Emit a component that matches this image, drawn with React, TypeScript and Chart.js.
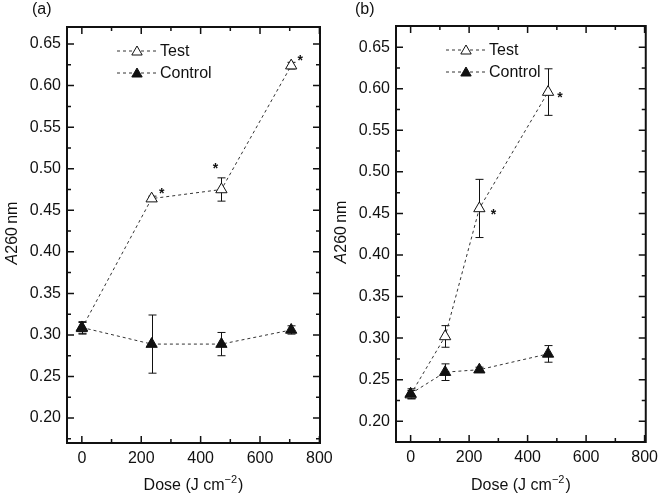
import React, { useEffect, useRef } from "react";
import { Chart, registerables } from "chart.js";

Chart.register(...registerables);

// ---------- data ----------
const seriesNames = ["Test", "Control"];
const panelLabels = ["(a)", "(b)"];
const xTitleMain = "Dose (J cm";
const xTitleSup = "\u22122";
const yTitleItalic = "A";
const yTitleRest = "260\u2009nm";

const xTickValues = [0, 200, 400, 600, 800];
const yTickValues = [0.2, 0.25, 0.3, 0.35, 0.4, 0.45, 0.5, 0.55, 0.6, 0.65];

// panel (a)
const doseA = [0, 235, 470, 705];
const testA = [0.308, 0.464, 0.475, 0.624];
const testErrA = [0.007, 0.003, 0.014, 0.004];
const controlA = [0.309, 0.289, 0.289, 0.306];
const controlErrA = [0.007, 0.035, 0.014, 0.005];
const starsA = [false, true, true, true];

// panel (b)
const doseB = [0, 118, 235, 470];
const testB = [0.232, 0.302, 0.456, 0.596];
const testErrB = [0.005, 0.013, 0.035, 0.028];
const controlB = [0.233, 0.259, 0.262, 0.281];
const controlErrB = [0.006, 0.01, 0.003, 0.01];
const starsB = [false, false, true, true];

// ---------- style ----------
const FONT_FAMILY = '"Liberation Sans", Arial, Helvetica, sans-serif';
const INK = "#111111";
const LINE = "#333333";

type PanelCfg = {
  label: string;
  dose: number[];
  test: number[];
  testErr: number[];
  control: number[];
  controlErr: number[];
  stars: boolean[];
  starOffsets: ({ dx: number; dy: number } | null)[];
  xMin: number;
  xMax: number;
  yMin: number;
  yMax: number;
  canvasW: number;
  left: number;
  padTop: number;
  padRight: number;
  yWidth: number;
  xHeight: number;
  labelX: number;
};

const panels: PanelCfg[] = [
  {
    label: panelLabels[0],
    dose: doseA,
    test: testA,
    testErr: testErrA,
    control: controlA,
    controlErr: controlErrA,
    stars: starsA,
    starOffsets: [null, { dx: 10, dy: -9 }, { dx: -6, dy: -24 }, { dx: 9, dy: -9 }],
    xMin: -50,
    xMax: 802,
    yMin: 0.17,
    yMax: 0.6705,
    canvasW: 345,
    left: 0,
    padTop: 27,
    padRight: 25,
    yWidth: 67,
    xHeight: 51,
    labelX: 32,
  },
  {
    label: panelLabels[1],
    dose: doseB,
    test: testB,
    testErr: testErrB,
    control: controlB,
    controlErr: controlErrB,
    stars: starsB,
    starOffsets: [null, null, { dx: 14, dy: 3 }, { dx: 12, dy: 2 }],
    xMin: -50,
    xMax: 804,
    yMin: 0.175,
    yMax: 0.6755,
    canvasW: 332,
    left: 332,
    padTop: 26,
    padRight: 14,
    yWidth: 64,
    xHeight: 52,
    labelX: 23,
  },
];

function drawTriangle(ctx: CanvasRenderingContext2D, x: number, y: number, r: number, filled: boolean) {
  ctx.beginPath();
  let rad = 0;
  ctx.moveTo(x + Math.sin(rad) * r, y - Math.cos(rad) * r);
  rad += (2 * Math.PI) / 3;
  ctx.lineTo(x + Math.sin(rad) * r, y - Math.cos(rad) * r);
  rad += (2 * Math.PI) / 3;
  ctx.lineTo(x + Math.sin(rad) * r, y - Math.cos(rad) * r);
  ctx.closePath();
  ctx.fillStyle = filled ? INK : "#ffffff";
  ctx.fill();
  ctx.lineWidth = 1;
  ctx.strokeStyle = INK;
  ctx.stroke();
}

function makePlugin(cfg: PanelCfg) {
  return {
    id: "panelDecor",
    beforeDatasetsDraw(chart: any) {
      const ctx: CanvasRenderingContext2D = chart.ctx;
      const xs = chart.scales.x;
      const ys = chart.scales.y;
      const groups = [
        { v: cfg.test, e: cfg.testErr },
        { v: cfg.control, e: cfg.controlErr },
      ];
      ctx.save();
      ctx.strokeStyle = INK;
      ctx.lineWidth = 1;
      groups.forEach((g) => {
        cfg.dose.forEach((d, i) => {
          const x = Math.round(xs.getPixelForValue(d)) + 0.5;
          const yHi = ys.getPixelForValue(g.v[i] + g.e[i]);
          const yLo = ys.getPixelForValue(g.v[i] - g.e[i]);
          ctx.beginPath();
          ctx.moveTo(x, yHi);
          ctx.lineTo(x, yLo);
          ctx.moveTo(x - 4, yHi);
          ctx.lineTo(x + 4, yHi);
          ctx.moveTo(x - 4, yLo);
          ctx.lineTo(x + 4, yLo);
          ctx.stroke();
        });
      });
      ctx.restore();
    },
    afterDraw(chart: any) {
      const ctx: CanvasRenderingContext2D = chart.ctx;
      const a = chart.chartArea;
      const xs = chart.scales.x;
      const ys = chart.scales.y;
      ctx.save();

      // frame
      ctx.strokeStyle = INK;
      ctx.lineWidth = 2;
      ctx.strokeRect(a.left, a.top, a.right - a.left, a.bottom - a.top);

      // inward ticks
      ctx.lineWidth = 1.5;
      ctx.beginPath();
      for (let v = 0; v <= cfg.xMax + 1e-9; v += 100) {
        const major = v % 200 === 0;
        const len = major ? 7 : 4;
        const x = xs.getPixelForValue(v);
        ctx.moveTo(x, a.bottom);
        ctx.lineTo(x, a.bottom - len);
        ctx.moveTo(x, a.top);
        ctx.lineTo(x, a.top + len);
      }
      for (let k = 7; k <= 26; k++) {
        const v = k * 0.025;
        if (v < cfg.yMin || v > cfg.yMax) continue;
        const major = k % 2 === 0;
        const len = major ? 7 : 4;
        const y = ys.getPixelForValue(v);
        ctx.moveTo(a.left, y);
        ctx.lineTo(a.left + len, y);
        ctx.moveTo(a.right, y);
        ctx.lineTo(a.right - len, y);
      }
      ctx.stroke();

      // legend
      const rows = [
        { name: seriesNames[0], filled: false, dy: 24 },
        { name: seriesNames[1], filled: true, dy: 46 },
      ];
      rows.forEach((r) => {
        const y = a.top + r.dy;
        ctx.save();
        ctx.strokeStyle = LINE;
        ctx.lineWidth = 1;
        ctx.setLineDash([3, 3]);
        ctx.beginPath();
        ctx.moveTo(a.left + 50, y);
        ctx.lineTo(a.left + 90, y);
        ctx.stroke();
        ctx.restore();
        drawTriangle(ctx, a.left + 70, y + 1, 6, r.filled);
        ctx.fillStyle = INK;
        ctx.font = `16px ${FONT_FAMILY}`;
        ctx.textAlign = "left";
        ctx.textBaseline = "middle";
        ctx.fillText(r.name, a.left + 93, y + 1);
      });

      // asterisks
      ctx.font = `bold 14px ${FONT_FAMILY}`;
      ctx.textAlign = "center";
      ctx.textBaseline = "alphabetic";
      ctx.fillStyle = INK;
      cfg.dose.forEach((d, i) => {
        const off = cfg.starOffsets[i];
        if (!cfg.stars[i] || !off) return;
        const x = xs.getPixelForValue(d) + off.dx;
        const y = ys.getPixelForValue(cfg.test[i]) + off.dy;
        ctx.fillText("*", x, y + 8);
      });

      // x title
      ctx.font = `16px ${FONT_FAMILY}`;
      const wMain = ctx.measureText(xTitleMain).width;
      ctx.font = `11px ${FONT_FAMILY}`;
      const wSup = ctx.measureText(xTitleSup).width;
      ctx.font = `16px ${FONT_FAMILY}`;
      const wClose = ctx.measureText(")").width;
      const total = wMain + wSup + wClose + 1;
      let tx = (a.left + a.right) / 2 - total / 2;
      const ty = 490;
      ctx.textAlign = "left";
      ctx.textBaseline = "alphabetic";
      ctx.fillText(xTitleMain, tx, ty);
      tx += wMain;
      ctx.font = `11px ${FONT_FAMILY}`;
      ctx.fillText(xTitleSup, tx, ty - 7);
      tx += wSup + 1;
      ctx.font = `16px ${FONT_FAMILY}`;
      ctx.fillText(")", tx, ty);

      // y title
      ctx.save();
      ctx.translate(a.left - 54.5, (a.top + a.bottom) / 2 - 2);
      ctx.rotate(-Math.PI / 2);
      ctx.font = `italic 16px ${FONT_FAMILY}`;
      const wA = ctx.measureText(yTitleItalic).width;
      ctx.font = `16px ${FONT_FAMILY}`;
      const wR = ctx.measureText(yTitleRest).width;
      let yx = -(wA + wR) / 2;
      ctx.textBaseline = "middle";
      ctx.textAlign = "left";
      ctx.font = `italic 16px ${FONT_FAMILY}`;
      ctx.fillText(yTitleItalic, yx, 0);
      yx += wA;
      ctx.font = `16px ${FONT_FAMILY}`;
      ctx.fillText(yTitleRest, yx, 0);
      ctx.restore();

      // panel label
      ctx.font = `16px ${FONT_FAMILY}`;
      ctx.textAlign = "left";
      ctx.textBaseline = "middle";
      ctx.fillText(cfg.label, cfg.labelX, 10);

      ctx.restore();
    },
  };
}

function Panel({ cfg }: { cfg: PanelCfg }) {
  const ref = useRef<HTMLCanvasElement | null>(null);
  useEffect(() => {
    if (!ref.current) return;
    const tickFont = { family: FONT_FAMILY, size: 16 };
    const chart = new Chart(ref.current, {
      type: "line",
      data: {
        datasets: [
          {
            label: seriesNames[0],
            data: cfg.dose.map((d, i) => ({ x: d, y: cfg.test[i] })),
            borderColor: LINE,
            borderWidth: 1,
            borderDash: [3, 3],
            pointStyle: "triangle",
            pointRadius: 6.5,
            pointBackgroundColor: "#ffffff",
            pointBorderColor: INK,
            pointBorderWidth: 1,
            tension: 0,
            order: 1,
          },
          {
            label: seriesNames[1],
            data: cfg.dose.map((d, i) => ({ x: d, y: cfg.control[i] })),
            borderColor: LINE,
            borderWidth: 1,
            borderDash: [3, 3],
            pointStyle: "triangle",
            pointRadius: 6.5,
            pointBackgroundColor: INK,
            pointBorderColor: INK,
            pointBorderWidth: 1,
            tension: 0,
            order: 0,
          },
        ],
      },
      options: {
        animation: false,
        responsive: false,
        maintainAspectRatio: false,
        layout: { padding: { left: 0, top: cfg.padTop, right: cfg.padRight, bottom: 0 } },
        plugins: { legend: { display: false }, tooltip: { enabled: false } },
        scales: {
          x: {
            type: "linear",
            min: cfg.xMin,
            max: cfg.xMax,
            grid: { display: false, drawTicks: false },
            border: { display: false },
            ticks: { font: tickFont, color: INK, padding: 6, maxRotation: 0, autoSkip: false },
            afterBuildTicks: (s: any) => {
              s.ticks = xTickValues.map((v) => ({ value: v }));
            },
            afterFit: (s: any) => {
              s.height = cfg.xHeight;
            },
          },
          y: {
            type: "linear",
            min: cfg.yMin,
            max: cfg.yMax,
            grid: { display: false, drawTicks: false },
            border: { display: false },
            ticks: {
              font: tickFont,
              color: INK,
              padding: 6,
              autoSkip: false,
              callback: (v: any) => Number(v).toFixed(2),
            },
            afterBuildTicks: (s: any) => {
              s.ticks = yTickValues.map((v) => ({ value: v }));
            },
            afterFit: (s: any) => {
              s.width = cfg.yWidth;
            },
          },
        },
      },
      plugins: [makePlugin(cfg)],
    } as any);
    return () => chart.destroy();
  }, [cfg]);
  return (
    <canvas
      ref={ref}
      width={cfg.canvasW}
      height={494}
      style={{ position: "absolute", left: cfg.left, top: 0, width: cfg.canvasW, height: 494 }}
    />
  );
}

export default function App() {
  return (
    <div style={{ position: "absolute", left: 0, top: 0, width: 664, height: 494, background: "#ffffff" }}>
      {panels.map((p) => (
        <Panel key={p.label} cfg={p} />
      ))}
    </div>
  );
}
